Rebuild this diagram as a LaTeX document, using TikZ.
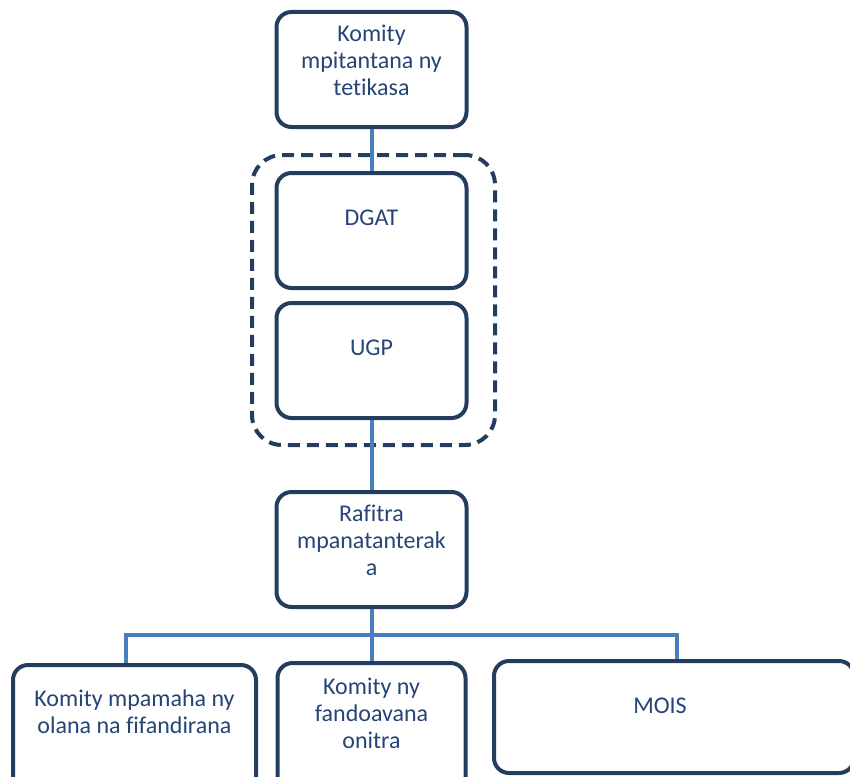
\documentclass[tikz,border=0pt]{standalone}
\usepackage{fontspec}
\setmainfont{Carlito}[Ligatures=NoCommon]
\definecolor{linkblue}{RGB}{74,126,187}
\definecolor{boxnavy}{RGB}{36,60,94}
\definecolor{txtblue}{RGB}{38,68,118}
\begin{document}
\begin{tikzpicture}[x=1pt,y=-1pt,
  box/.style={draw=boxnavy,line width=4pt,rounded corners=15pt,fill=white,inner sep=0pt},
  grp/.style={draw=boxnavy,line width=4pt,rounded corners=30pt,dash pattern=on 12pt off 7pt,inner sep=0pt},
  txt/.style={text=txtblue,font=\fontsize{24}{27}\selectfont,align=center,inner sep=0pt},
  link/.style={draw=linkblue,line width=4pt}]
\useasboundingbox (0,0) rectangle (850,776);
\begin{scope}
\clip (0,0) rectangle (850,776);
% group (dashed)
\node[grp,minimum width=243pt,minimum height=290pt] (grp) at (373.5,300) {};
% boxes
\node[box,minimum width=190pt,minimum height=115pt] (top) at (371.5,69.5) {};
\node[box,minimum width=190pt,minimum height=115pt] (dgat) at (371.5,230.5) {};
\node[box,minimum width=190pt,minimum height=115pt] (ugp) at (371.5,360.5) {};
\node[box,minimum width=190pt,minimum height=115pt] (raf) at (371.5,549.5) {};
\node[box,minimum width=243pt,minimum height=130pt] (left) at (134.5,730) {};
\node[box,minimum width=188pt,minimum height=130pt] (mid) at (371.5,728) {};
\node[box,minimum width=360pt,minimum height=112pt] (mois) at (674,717) {};
% connectors
\coordinate (bus) at (371.5,635);
\draw[link] (top.south) -- (dgat.north);
\draw[link] (ugp.south) -- (raf.north);
\draw[link] (raf.south) -- (mid.north);
\draw[link] (left.north -| 126,0) |- (bus) -| (mois.north -| 677,0);
% texts
\node[txt] (toptxt) at (371.5,60) {Komity\\mpitantana ny\\tetikasa};
\node[txt] (dgattxt) at (371.5,218) {DGAT};
\node[txt] (ugptxt) at (371.5,348) {UGP};
\node[txt] (raftxt) at (371.5,540) {Rafitra\\mpanatanterak\\a};
\node[txt] (lefttxt) at (134.5,711.5) {Komity mpamaha ny\\olana na fifandirana};
\node[txt] (midtxt) at (371.5,713.5) {Komity ny\\fandoavana\\onitra};
\node[txt] (moistxt) at (660,706) {MOIS};
\end{scope}
\end{tikzpicture}
\end{document}
